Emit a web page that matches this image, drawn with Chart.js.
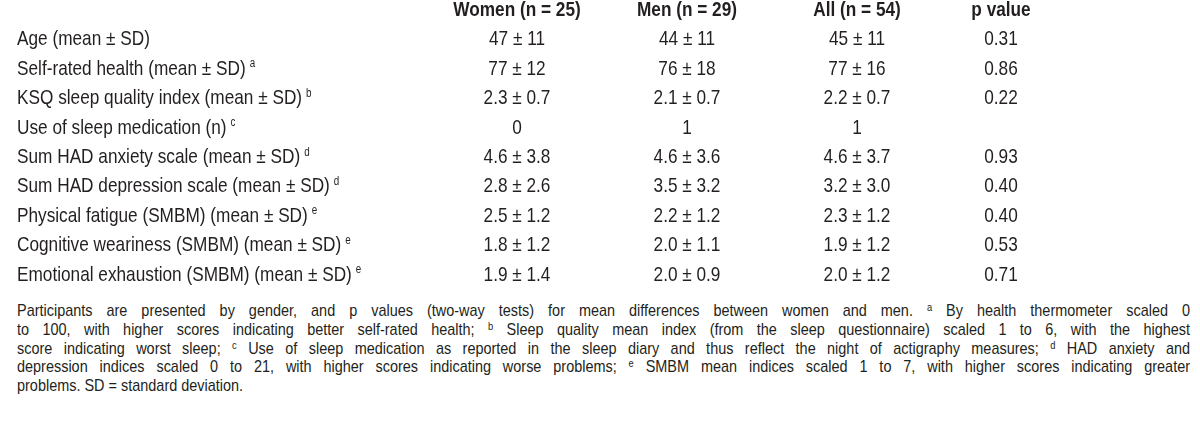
<!DOCTYPE html>
<html>
<head>
<meta charset="utf-8">
<script src="https://cdn.jsdelivr.net/npm/chart.js@4/dist/chart.umd.min.js"></script>
<style>
    body { margin: 0; background: #fff; width: 1200px; height: 429px; overflow: hidden; position: relative; }
    #table { position: absolute; left: 0; top: 0; }
    /* no narrow face installed, so squeeze Liberation Sans horizontally */
    #note {
        position: absolute; left: 17px; top: 302px; width: 1380px;
        transform: scaleX(0.85); transform-origin: 0 0;
        font-family: 'Liberation Sans', Arial, sans-serif; font-size: 17px;
        line-height: 18.8px; color: #231f20;
    }
    #note div { text-align: justify; text-align-last: justify; white-space: nowrap; }
    #note div.last { text-align-last: left; }
    #note sup { font-size: 11px; vertical-align: 5px; line-height: 0; }
</style>
</head>
<body>
<canvas id="table" width="1200" height="300"></canvas>
<div id="note">
    <div>Participants are presented by gender, and p values (two-way tests) for mean differences between women and men. <sup>a</sup> By health thermometer scaled 0</div>
    <div>to 100, with higher scores indicating better self-rated health; <sup>b</sup> Sleep quality mean index (from the sleep questionnaire) scaled 1 to 6, with the highest</div>
    <div>score indicating worst sleep; <sup>c</sup> Use of sleep medication as reported in the sleep diary and thus reflect the night of actigraphy measures; <sup>d</sup> HAD anxiety and</div>
    <div>depression indices scaled 0 to 21, with higher scores indicating worse problems; <sup>e</sup> SMBM mean indices scaled 1 to 7, with higher scores indicating greater</div>
    <div class="last">problems. SD = standard deviation.</div>
</div>
<script>
// table data
const columns = ['Women (n = 25)', 'Men (n = 29)', 'All (n = 54)', 'p value'];
const rowLabels = [
    'Age (mean ± SD)',
    'Self-rated health (mean ± SD)',
    'KSQ sleep quality index (mean ± SD)',
    'Use of sleep medication (n)',
    'Sum HAD anxiety scale (mean ± SD)',
    'Sum HAD depression scale (mean ± SD)',
    'Physical fatigue (SMBM) (mean ± SD)',
    'Cognitive weariness (SMBM) (mean ± SD)',
    'Emotional exhaustion (SMBM) (mean ± SD)'
];
const rowNotes = ['', 'a', 'b', 'c', 'd', 'd', 'e', 'e', 'e'];
const women = ['47 ± 11', '77 ± 12', '2.3 ± 0.7', '0', '4.6 ± 3.8', '2.8 ± 2.6', '2.5 ± 1.2', '1.8 ± 1.2', '1.9 ± 1.4'];
const men = ['44 ± 11', '76 ± 18', '2.1 ± 0.7', '1', '4.6 ± 3.6', '3.5 ± 3.2', '2.2 ± 1.2', '2.0 ± 1.1', '2.0 ± 0.9'];
const all = ['45 ± 11', '77 ± 16', '2.2 ± 0.7', '1', '4.6 ± 3.7', '3.2 ± 3.0', '2.3 ± 1.2', '1.9 ± 1.2', '2.0 ± 1.2'];
const pValues = ['0.31', '0.86', '0.22', '', '0.93', '0.40', '0.40', '0.53', '0.71'];

// layout: x position of each column centre, label column left edge
const labelX = 17;
const colCenters = [517, 687, 857, 1001];
const FONT = "'Liberation Sans', Arial, sans-serif";
const INK = '#231f20';
const SQUEEZE = 0.82; // fake a narrow face

const valueCols = [women, men, all, pValues];

// one anchor point per cell, row 0 is the header
const points = [];
columns.forEach((c, ci) => points.push({ x: colCenters[ci], y: 0, text: c, header: true }));
rowLabels.forEach((label, ri) => {
    points.push({ x: labelX, y: ri + 1, text: label, note: rowNotes[ri], isLabel: true });
    valueCols.forEach((col, ci) => points.push({ x: colCenters[ci], y: ri + 1, text: col[ri] }));
});

function squeezedText(ctx, text, x, y) {
    ctx.save();
    ctx.translate(x, y);
    ctx.scale(SQUEEZE, 1);
    ctx.fillText(text, 0, 0);
    ctx.restore();
}

const cellText = {
    id: 'cellText',
    afterDatasetsDraw(chart) {
        const ctx = chart.ctx;
        const meta = chart.getDatasetMeta(0);
        ctx.save();
        ctx.fillStyle = INK;
        ctx.textBaseline = 'middle';
        meta.data.forEach((el, i) => {
            const p = points[i];
            if (p.header) {
                ctx.font = 'bold 21px ' + FONT;
                ctx.textAlign = 'center';
                squeezedText(ctx, p.text, el.x, el.y);
            } else if (p.isLabel) {
                ctx.font = '21px ' + FONT;
                ctx.textAlign = 'left';
                squeezedText(ctx, p.text, el.x, el.y);
                if (p.note) {
                    const w = ctx.measureText(p.text).width * SQUEEZE;
                    ctx.font = '12px ' + FONT;
                    squeezedText(ctx, p.note, el.x + w + 4, el.y - 5);
                }
            } else {
                ctx.font = '21px ' + FONT;
                ctx.textAlign = 'center';
                squeezedText(ctx, p.text, el.x, el.y);
            }
        });
        ctx.restore();
    }
};

new Chart(document.getElementById('table'), {
    type: 'scatter',
    data: { datasets: [{ data: points, pointRadius: 0, pointHoverRadius: 0 }] },
    options: {
        responsive: false,
        animation: false,
        events: [],
        layout: { padding: { top: 10, bottom: 25, left: 0, right: 0 } },
        plugins: { legend: { display: false }, tooltip: { enabled: false } },
        scales: {
            x: { type: 'linear', min: 0, max: 1200, display: false },
            y: { type: 'linear', min: 0, max: rowLabels.length, reverse: true, display: false }
        }
    },
    plugins: [cellText]
});
</script>
</body>
</html>
